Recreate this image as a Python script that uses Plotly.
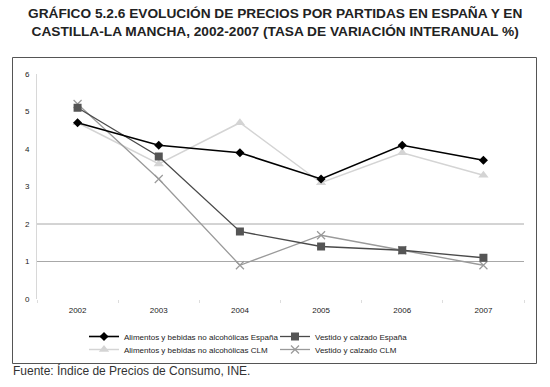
import plotly.graph_objects as go

years = ["2002", "2003", "2004", "2005", "2006", "2007"]
alim_esp = [4.7, 4.1, 3.9, 3.2, 4.1, 3.7]
alim_clm = [4.7, 3.6, 4.7, 3.1, 3.9, 3.3]
vest_esp = [5.1, 3.8, 1.8, 1.4, 1.3, 1.1]
vest_clm = [5.2, 3.2, 0.9, 1.7, 1.3, 0.9]
y_ticks = [0, 1, 2, 3, 4, 5, 6]
grid_vals = [1, 2]

W, H = 550, 387
L, R, T, B = 37, 26, 74, 88
pw, ph = W - L - R, H - T - B

def px2paper_x(px):
    return (px - L) / pw

def px2paper_y(py):
    return (H - B - py) / ph

fig = go.Figure()

fig.add_trace(go.Scatter(x=years, y=alim_clm, name="Alimentos y bebidas no alcohólicas CLM",
                         mode="lines+markers", legend="legend2",
                         line=dict(color="#d4d4d4", width=1.5),
                         marker=dict(symbol="triangle-up", size=9, color="#d4d4d4")))
fig.add_trace(go.Scatter(x=years, y=vest_clm, name="Vestido y calzado CLM",
                         mode="lines+markers", legend="legend4",
                         line=dict(color="#9a9a9a", width=1.3),
                         marker=dict(symbol="x-thin-open", size=8, color="#9a9a9a",
                                     line=dict(color="#9a9a9a", width=1.2))))
fig.add_trace(go.Scatter(x=years, y=vest_esp, name="Vestido y calzado España",
                         mode="lines+markers", legend="legend3",
                         line=dict(color="#4a4a4a", width=1.3),
                         marker=dict(symbol="square", size=8, color="#555555")))
fig.add_trace(go.Scatter(x=years, y=alim_esp, name="Alimentos y bebidas no alcohólicas España",
                         mode="lines+markers", legend="legend",
                         line=dict(color="#000000", width=1.6),
                         marker=dict(symbol="diamond", size=7, color="#000000")))

shapes = []
for g in grid_vals:
    shapes.append(dict(type="line", xref="paper", yref="y", x0=0, x1=1, y0=g, y1=g,
                       line=dict(color="#a8a8a8", width=1), layer="below"))
shapes.append(dict(type="rect", xref="paper", yref="paper",
                   x0=px2paper_x(12.5), x1=px2paper_x(536.5),
                   y0=px2paper_y(363.5), y1=px2paper_y(57.5),
                   line=dict(color="#555555", width=1), fillcolor="rgba(0,0,0,0)"))

font_family = "Liberation Sans, Arial, sans-serif"

legend_common = dict(orientation="v", bgcolor="rgba(0,0,0,0)",
                     font=dict(size=8, color="#222", family=font_family),
                     itemwidth=30, xanchor="left", yanchor="top", tracegroupgap=0)

col1_x, col2_x = 84, 275
row1_top, row2_top = 322, 335

fig.update_layout(
    width=W, height=H,
    margin=dict(l=L, r=R, t=T, b=B, autoexpand=False),
    paper_bgcolor="white", plot_bgcolor="white",
    font=dict(family=font_family, color="#222"),
    showlegend=True,
    legend=dict(**legend_common, x=px2paper_x(col1_x), y=px2paper_y(row1_top)),
    legend2=dict(**legend_common, x=px2paper_x(col1_x), y=px2paper_y(row2_top)),
    legend3=dict(**legend_common, x=px2paper_x(col2_x), y=px2paper_y(row1_top)),
    legend4=dict(**legend_common, x=px2paper_x(col2_x), y=px2paper_y(row2_top)),
    xaxis=dict(type="category", range=[-0.5, 5.5], showgrid=False, zeroline=False,
               showline=False, ticks="outside", tickson="boundaries", ticklen=3,
               tickcolor="#dddddd", tickfont=dict(size=8, color="#222"),
               ticklabelstandoff=5, fixedrange=True),
    yaxis=dict(range=[0, 6], tickvals=y_ticks, showgrid=False, zeroline=False,
               showline=True, linecolor="#d8d8d8", linewidth=1,
               ticks="", tickfont=dict(size=8, color="#222"), ticklabelstandoff=5),
    shapes=shapes,
    annotations=[
        dict(text="<b>GRÁFICO 5.2.6 EVOLUCIÓN DE PRECIOS POR PARTIDAS EN ESPAÑA Y EN<br>"
                  "CASTILLA-LA MANCHA, 2002-2007 (TASA DE VARIACIÓN INTERANUAL %)</b>",
             xref="paper", yref="paper", x=px2paper_x(275), y=px2paper_y(4),
             xanchor="center", yanchor="top", showarrow=False, align="center",
             font=dict(size=13.7, color="#222", family="Liberation Sans, Arial")),
        dict(text="Fuente: Índice de Precios de Consumo, INE.",
             xref="paper", yref="paper", x=px2paper_x(11), y=px2paper_y(361),
             xanchor="left", yanchor="top", showarrow=False,
             font=dict(size=12, color="#333", family=font_family)),
    ],
)

fig.write_html("out.html", config={"displayModeBar": False},
               post_script="document.body.style.margin='0';")
